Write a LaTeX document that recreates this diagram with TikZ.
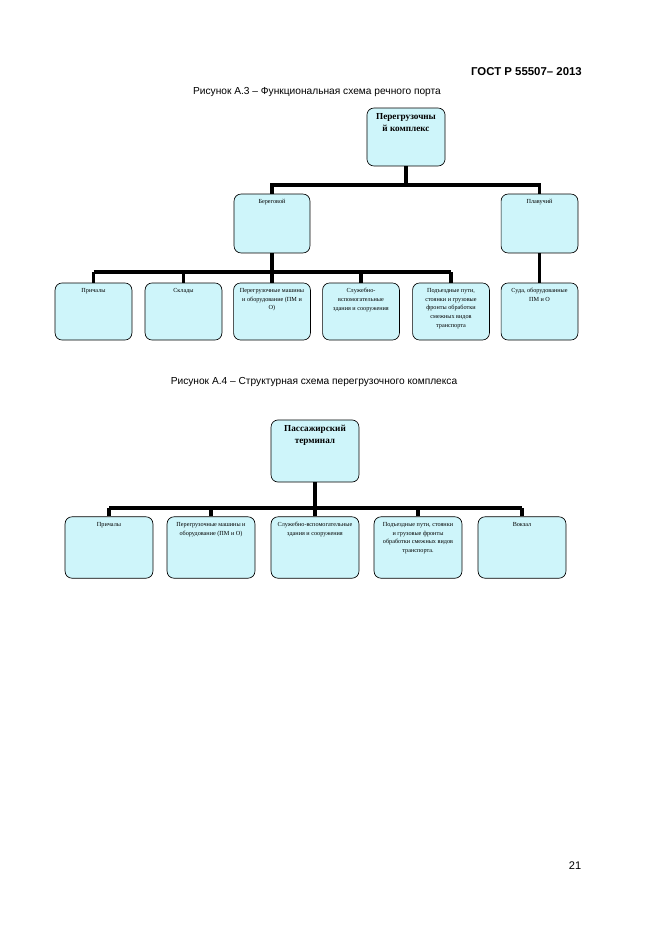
\documentclass[tikz,border=0pt]{standalone}
\usepackage{fontspec}
\setmainfont{Liberation Serif}
\newfontfamily\arialfont{Liberation Sans}
\usetikzlibrary{calc}
\definecolor{boxfill}{RGB}{206,245,250}
\tikzset{box/.style={draw, fill=boxfill, rounded corners=2.2mm, line width=0.6pt, inner sep=0pt},
         boxA/.style={box, minimum width=2.44cm, minimum height=1.81cm},
         boxB/.style={box, minimum width=2.79cm, minimum height=1.95cm},
         boxtext/.style={anchor=north, align=center, inner sep=0pt, yshift=-5pt, font=\fontsize{5.6}{7.9}\selectfont},
         headtext/.style={anchor=north, align=center, inner sep=0pt, yshift=-5pt, font=\fontsize{8.3}{10.5}\selectfont\bfseries},
         link/.style={line width=3pt},
         sheet/.style={font=\arialfont\fontsize{9.2}{11}\selectfont, inner sep=0pt}}

\begin{document}
\begin{tikzpicture}[x=0.03175cm,y=-0.03175cm]
   \useasboundingbox (0,0) rectangle (661,935);
   % page head
   \node[sheet, anchor=base east, font=\arialfont\fontsize{10.3}{13}\selectfont\bfseries] (gost) at (582,76) {ГОСТ Р 55507– 2013};
   \node[sheet, anchor=base] (capA) at (317,95) {Рисунок А.3 – Функциональная схема речного порта};
   \node[sheet, anchor=base] (capB) at (314,384) {Рисунок А.4 – Структурная схема перегрузочного комплекса};
   \node[sheet, anchor=base, font=\arialfont\fontsize{10}{12}\selectfont] (page) at (575,869) {21};
   % figure A.3
   \node[box, minimum width=2.48cm, minimum height=1.84cm, label={[headtext]north:Перегрузочны\\й комплекс}] (rootA) at (406,137) {};
   \node[box, minimum width=2.41cm, minimum height=1.87cm, label={[boxtext]north:Береговой}] (beregA) at (272,223.5) {};
   \node[box, minimum width=2.44cm, minimum height=1.87cm, label={[boxtext]north:Плавучий}] (plavA) at (539.5,223.5) {};
   \node[boxA, label={[boxtext]north:Причалы}] (prichA) at (93.5,311.5) {};
   \node[boxA, label={[boxtext]north:Склады}] (skladA) at (183.5,311.5) {};
   \node[boxA, label={[boxtext]north:Перегрузочные машины\\и оборудование (ПМ и\\О)}] (peregA) at (272,311.5) {};
   \node[boxA, label={[boxtext]north:Служебно-\\вспомогательные\\здания и сооружения}] (sluzhA) at (361,311.5) {};
   \node[boxA, label={[boxtext]north:Подъездные пути,\\стоянки и грузовые\\фронты обработки\\смежных видов\\транспорта}] (podA) at (451,311.5) {};
   \node[boxA, label={[boxtext]north:Суда, оборудованные\\ПМ и О}] (sudaA) at (539.5,311.5) {};
   \coordinate (busA) at (0,185);
   \coordinate (busAA) at (0,272);
   \draw[link] (rootA.south) -- (rootA.south |- busA);
   \draw[link] (beregA.north) |- (plavA.north |- busA) -- (plavA.north);
   \draw[link] (beregA.south) -- (beregA.south |- busAA);
   \draw[link] (prichA.north |- busAA) -- (podA.north |- busAA);
   \foreach \n in {prichA,skladA,peregA,sluzhA,podA}
     \draw[link] (\n.north) -- (\n.north |- busAA);
   \draw[link] (plavA.south) -- (sudaA.north);
   % figure A.4
   \node[boxB, minimum height=1.97cm, label={[headtext]north:Пассажирский\\терминал}] (rootB) at (315,451) {};
   \node[boxB, label={[boxtext]north:Причалы}] (prichB) at (109,547.5) {};
   \node[boxB, label={[boxtext]north:Перегрузочные машины и\\оборудование (ПМ и О)}] (peregB) at (211,547.5) {};
   \node[boxB, label={[boxtext]north:Служебно-вспомогательные\\здания и сооружения}] (sluzhB) at (315,547.5) {};
   \node[boxB, label={[boxtext]north:Подъездные пути, стоянки\\и грузовые фронты\\обработки смежных видов\\транспорта.}] (podB) at (418,547.5) {};
   \node[boxB, label={[boxtext]north:Вокзал}] (vokzB) at (522,547.5) {};
   \coordinate (busB) at (0,508);
   \draw[link] (rootB.south) -- (rootB.south |- busB);
   \draw[link] (prichB.north |- busB) -- (vokzB.north |- busB);
   \foreach \n in {prichB,peregB,sluzhB,podB,vokzB}
     \draw[link] (\n.north) -- (\n.north |- busB);
\end{tikzpicture}
\end{document}
